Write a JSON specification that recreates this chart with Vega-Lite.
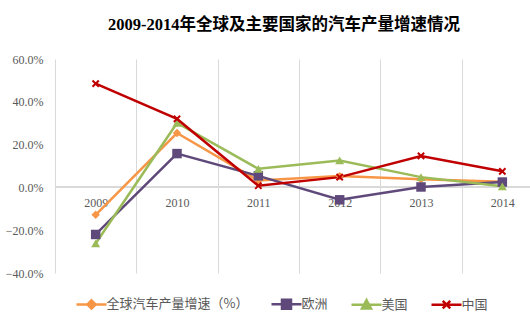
{
  "$schema": "https://vega.github.io/schema/vega-lite/v6.json",
  "autosize": {"type": "none"},
  "width": 488,
  "height": 214,
  "padding": {"left": 55, "top": 59, "right": 0, "bottom": 56},
  "background": "white",
  "title": {
    "text": "2009-2014年全球及主要国家的汽车产量增速情况",
    "font": "Liberation Serif, Noto Sans CJK SC",
    "fontSize": 16.5,
    "fontWeight": "bold",
    "color": "#000000",
    "anchor": "middle",
    "dx": -15,
    "offset": 20
  },
  "config": {
    "view": {"stroke": null},
    "axis": {"labelColor": "#595959", "labelFont": "Liberation Serif", "labelFontSize": 12}
  },
  "data": {
    "values": [
      {"year": "2009", "series": "全球汽车产量增速（%）", "value": -0.128},
      {"year": "2010", "series": "全球汽车产量增速（%）", "value": 0.254},
      {"year": "2011", "series": "全球汽车产量增速（%）", "value": 0.032},
      {"year": "2012", "series": "全球汽车产量增速（%）", "value": 0.053},
      {"year": "2013", "series": "全球汽车产量增速（%）", "value": 0.038},
      {"year": "2014", "series": "全球汽车产量增速（%）", "value": 0.026},
      {"year": "2009", "series": "欧洲", "value": -0.22},
      {"year": "2010", "series": "欧洲", "value": 0.158},
      {"year": "2011", "series": "欧洲", "value": 0.054},
      {"year": "2012", "series": "欧洲", "value": -0.058},
      {"year": "2013", "series": "欧洲", "value": 0.002},
      {"year": "2014", "series": "欧洲", "value": 0.025},
      {"year": "2009", "series": "美国", "value": -0.262},
      {"year": "2010", "series": "美国", "value": 0.301},
      {"year": "2011", "series": "美国", "value": 0.087},
      {"year": "2012", "series": "美国", "value": 0.126},
      {"year": "2013", "series": "美国", "value": 0.048},
      {"year": "2014", "series": "美国", "value": 0.005},
      {"year": "2009", "series": "中国", "value": 0.485},
      {"year": "2010", "series": "中国", "value": 0.32},
      {"year": "2011", "series": "中国", "value": 0.008},
      {"year": "2012", "series": "中国", "value": 0.048},
      {"year": "2013", "series": "中国", "value": 0.147},
      {"year": "2014", "series": "中国", "value": 0.075}
    ]
  },
  "encoding": {
    "x": {
      "field": "year", "type": "ordinal",
      "scale": {"type": "band", "paddingInner": 0, "paddingOuter": 0},
      "axis": {
        "title": null, "domain": false, "ticks": false, "grid": true, "tickBand": "extent",
        "gridColor": "#D9D9D9", "labelAngle": 0, "labelPadding": -76
      }
    },
    "y": {
      "field": "value", "type": "quantitative",
      "scale": {"domain": [-0.4, 0.6], "nice": false, "zero": false},
      "axis": {
        "title": null, "domain": false, "ticks": false, "grid": false,
        "values": [-0.4, -0.2, 0, 0.2, 0.4, 0.6], "format": ".1%", "labelPadding": 12
      }
    }
  },
  "layer": [
    {
      "mark": {"type": "rule", "color": "#D9D9D9", "strokeWidth": 1},
      "encoding": {"x": null, "y": {"datum": 0}}
    },
    {
      "mark": {"type": "line", "strokeWidth": 2.5},
      "encoding": {
        "stroke": {
          "field": "series", "type": "nominal",
          "scale": {
            "domain": ["全球汽车产量增速（%）", "欧洲", "美国", "中国"],
            "range": ["#F79646", "#5F497A", "#9BBB59", "#C00000"]
          }
        },
        "detail": {"field": "series"}
      }
    },
    {
      "transform": [{"filter": "datum.series === '全球汽车产量增速（%）'"}],
      "mark": {"type": "point", "shape": "diamond", "filled": true, "color": "#F79646", "size": 70, "opacity": 1}
    },
    {
      "transform": [{"filter": "datum.series === '欧洲'"}],
      "mark": {"type": "point", "shape": "square", "filled": true, "color": "#5F497A", "size": 90, "opacity": 1}
    },
    {
      "transform": [{"filter": "datum.series === '美国'"}],
      "mark": {"type": "point", "shape": "triangle-up", "filled": true, "color": "#9BBB59", "size": 80, "opacity": 1}
    },
    {
      "transform": [{"filter": "datum.series === '中国'"}],
      "mark": {"type": "point", "shape": "M-1,-1L1,1M-1,1L1,-1", "filled": false, "color": "#C00000", "size": 40, "strokeWidth": 2, "opacity": 1}
    },
    {
      "mark": {"type": "point", "filled": true, "fillOpacity": 0, "strokeOpacity": 0, "size": 1},
      "encoding": {
        "stroke": {"field": "series", "type": "nominal"},
        "fill": {"field": "series", "type": "nominal",
          "scale": {
            "domain": ["全球汽车产量增速（%）", "欧洲", "美国", "中国"],
            "range": ["#F79646", "#5F497A", "#9BBB59", "#C00000"]
          }
        },
        "shape": {
          "field": "series", "type": "nominal",
          "scale": {
            "domain": ["全球汽车产量增速（%）", "欧洲", "美国", "中国"],
            "range": [
              "M-2,0H2M0,-0.55L0.55,0L0,0.55L-0.55,0Z",
              "M-2,0H2M-0.6,-0.6H0.6V0.6H-0.6Z",
              "M-2,0H2M0,-0.6L0.6,0.5H-0.6Z",
              "M-2,0H2M-0.5,-0.5L0.5,0.5M-0.5,0.5L0.5,-0.5"
            ]
          },
          "legend": {
            "title": null,
            "orient": "none",
            "direction": "horizontal",
            "legendX": 27.5,
            "legendY": 236,
            "symbolSize": 225,
            "symbolStrokeWidth": 2.5,
            "labelOffset": 6,
            "columnPadding": 18,
            "labelFont": "Noto Sans CJK SC",
            "labelFontSize": 13,
            "labelColor": "#595959",
            "padding": 0,
            "encode": {"symbols": {"update": {"opacity": {"value": 1}, "fillOpacity": {"value": 1}, "strokeOpacity": {"value": 1}}}}
          }
        }
      }
    }
  ]
}
